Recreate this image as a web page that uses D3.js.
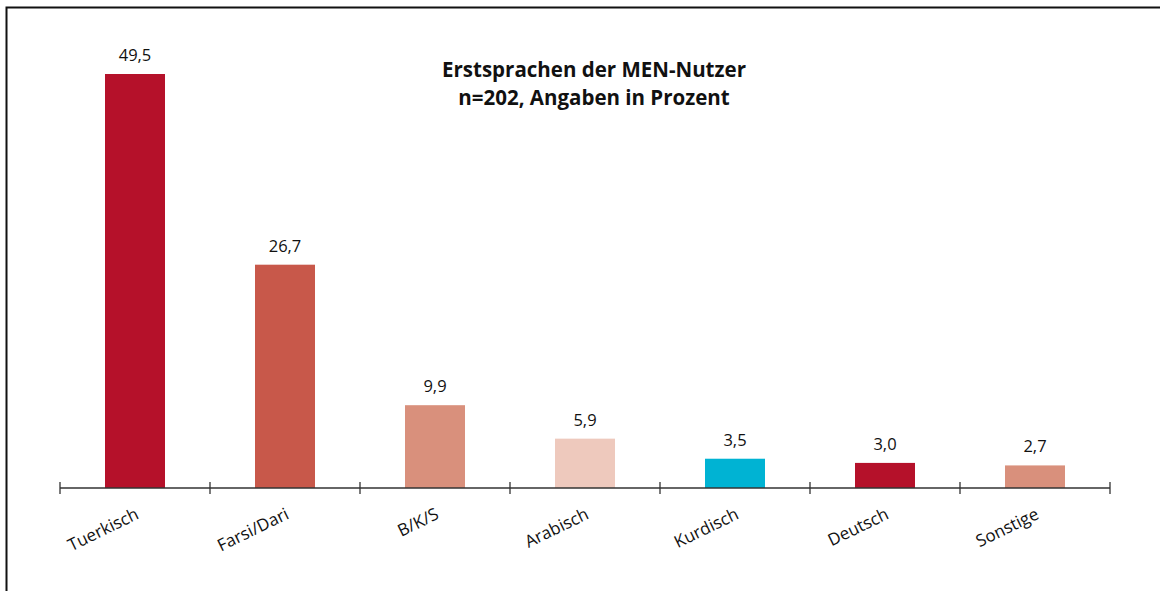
<!DOCTYPE html>
<html>
<head>
<meta charset="utf-8">
<script src="https://cdn.jsdelivr.net/npm/d3@7"></script>
<style>
  html, body { margin: 0; padding: 0; background: #fff; }
  svg { display: block; font-family: "Open Sans", Lato, sans-serif; }
</style>
</head>
<body>
<div id="chart"></div>
<script>
const categories = ["Tuerkisch", "Farsi/Dari", "B/K/S", "Arabisch", "Kurdisch", "Deutsch", "Sonstige"];
const values = [49.5, 26.7, 9.9, 5.9, 3.5, 3.0, 2.7];
const colors = ["#b5112a", "#c8584a", "#d9907c", "#eec9bd", "#00b3d3", "#b5112a", "#d9907c"];
const titleLines = ["Erstsprachen der MEN-Nutzer", "n=202, Angaben in Prozent"];

const width = 1160, height = 591;
const margin = { left: 60, right: 50, top: 74, bottom: 103 };

const svg = d3.select("#chart")
  .append("svg")
  .attr("width", width)
  .attr("height", height);

// frame: top and left edges only
svg.append("path")
  .attr("d", `M6.5,${height} L6.5,7.5 L${width},7.5`)
  .attr("fill", "none")
  .attr("stroke", "#111")
  .attr("stroke-width", 2);

const x = d3.scaleBand()
  .domain(categories)
  .range([margin.left, width - margin.right])
  .paddingInner(0.6)
  .paddingOuter(0.3);

const y = d3.scaleLinear()
  .domain([0, d3.max(values)])
  .range([height - margin.bottom, margin.top]);

const data = categories.map((c, i) => ({ cat: c, value: values[i], color: colors[i] }));

svg.append("g")
  .selectAll("rect")
  .data(data)
  .join("rect")
    .attr("x", d => x(d.cat))
    .attr("y", d => y(d.value))
    .attr("width", x.bandwidth())
    .attr("height", d => y(0) - y(d.value))
    .attr("fill", d => d.color);

svg.append("g")
  .selectAll("text")
  .data(data)
  .join("text")
    .attr("x", d => x(d.cat) + x.bandwidth() / 2)
    .attr("y", d => y(d.value) - 13)
    .attr("text-anchor", "middle")
    .attr("font-size", 16.5)
    .attr("fill", "#111")
    .text(d => d3.format(".1f")(d.value).replace(".", ","));

// axis line with ticks at band boundaries
const step = x.step();
const bounds = d3.range(categories.length + 1).map(i => margin.left + i * step);
const axis = svg.append("g").attr("stroke", "#333").attr("stroke-width", 1.3);
axis.append("line")
  .attr("x1", bounds[0]).attr("x2", bounds[bounds.length - 1])
  .attr("y1", y(0)).attr("y2", y(0));
axis.selectAll(".tick")
  .data(bounds)
  .join("line")
    .attr("x1", d => d).attr("x2", d => d)
    .attr("y1", y(0) - 6).attr("y2", y(0) + 6);

svg.append("g")
  .selectAll("text")
  .data(categories)
  .join("text")
    .attr("text-anchor", "end")
    .attr("font-size", 17)
    .attr("fill", "#111")
    .attr("transform", d => `translate(${x(d) + x.bandwidth() / 2 + 5},${y(0) + 30}) rotate(-26)`)
    .text(d => d);

svg.append("text")
  .attr("y", 77)
  .attr("text-anchor", "middle")
  .attr("font-size", 20.5)
  .attr("font-weight", "bold")
  .attr("fill", "#111")
  .selectAll("tspan")
  .data(titleLines)
  .join("tspan")
    .attr("x", 594)
    .attr("dy", (d, i) => i === 0 ? 0 : 28)
    .text(d => d);
</script>
</body>
</html>
